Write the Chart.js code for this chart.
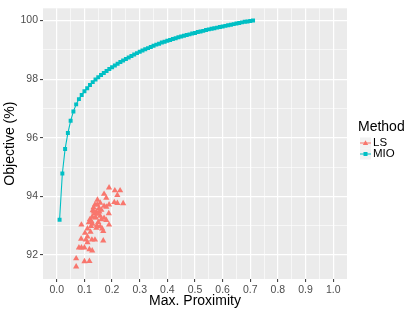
<!DOCTYPE html>
<html>
<head>
<meta charset="utf-8">
<script src="https://cdn.jsdelivr.net/npm/chart.js@4/dist/chart.umd.min.js"></script>
<style>
  html, body { margin: 0; padding: 0; background: #fff; }
  #wrap { width: 415px; height: 312px; }
</style>
</head>
<body>
<div id="wrap"><canvas id="grafica"></canvas></div>
<script>
// Datos
const mioProximity = [0.01, 0.02, 0.03, 0.04, 0.05, 0.06, 0.07, 0.08, 0.09, 0.10,
  0.11, 0.12, 0.13, 0.14, 0.15, 0.16, 0.17, 0.18, 0.19, 0.20,
  0.21, 0.22, 0.23, 0.24, 0.25, 0.26, 0.27, 0.28, 0.29, 0.30,
  0.31, 0.32, 0.33, 0.34, 0.35, 0.36, 0.37, 0.38, 0.39, 0.40,
  0.41, 0.42, 0.43, 0.44, 0.45, 0.46, 0.47, 0.48, 0.49, 0.50,
  0.51, 0.52, 0.53, 0.54, 0.55, 0.56, 0.57, 0.58, 0.59, 0.60,
  0.61, 0.62, 0.63, 0.64, 0.65, 0.66, 0.67, 0.68, 0.69, 0.70, 0.71];
const mioObjective = [93.2, 94.78, 95.62, 96.16, 96.58, 96.9, 97.14, 97.32, 97.46, 97.59,
  97.69, 97.8, 97.9, 97.99, 98.07, 98.14, 98.21, 98.28, 98.35, 98.41,
  98.47, 98.53, 98.59, 98.64, 98.69, 98.74, 98.79, 98.84, 98.89, 98.94,
  98.98, 99.02, 99.06, 99.1, 99.14, 99.18, 99.21, 99.25, 99.28, 99.31,
  99.34, 99.37, 99.4, 99.43, 99.46, 99.48, 99.51, 99.53, 99.56, 99.58,
  99.61, 99.63, 99.65, 99.68, 99.7, 99.72, 99.74, 99.76, 99.78, 99.8,
  99.82, 99.84, 99.86, 99.88, 99.9, 99.92, 99.94, 99.96, 99.97, 99.99, 100.0];

const lsProximity = [0.189, 0.21, 0.229, 0.171, 0.219, 0.179, 0.208, 0.219, 0.24, 0.189,
  0.157, 0.138, 0.146, 0.171, 0.179, 0.161, 0.13, 0.143, 0.154, 0.188,
  0.136, 0.157, 0.128, 0.12, 0.141, 0.171, 0.161, 0.179, 0.189, 0.089,
  0.116, 0.129, 0.145, 0.157, 0.111, 0.143, 0.164, 0.168, 0.102, 0.122,
  0.111, 0.088, 0.105, 0.127, 0.138, 0.168, 0.111, 0.08, 0.089, 0.1,
  0.118, 0.128, 0.07, 0.1, 0.118, 0.07, 0.134, 0.149, 0.153, 0.125,
  0.139, 0.15, 0.133, 0.147, 0.124];
const lsObjective = [94.3, 94.2, 94.2, 94.08, 94.04, 93.95, 93.8, 93.77, 93.76, 93.72,
  93.78, 93.72, 93.72, 93.67, 93.64, 93.54, 93.52, 93.48, 93.48, 93.42,
  93.41, 93.33, 93.3, 93.22, 93.27, 93.26, 93.21, 93.19, 93.03, 93.03,
  93.11, 93.06, 93.01, 92.97, 92.9, 92.92, 92.9, 92.81, 92.75, 92.79,
  92.62, 92.55, 92.52, 92.52, 92.52, 92.49, 92.43, 92.25, 92.25, 92.25,
  92.19, 92.15, 91.88, 91.78, 91.79, 91.6, 93.48, 93.4, 93.6, 93.15,
  93.28, 93.12, 93.62, 93.88, 92.98];

const xBreaks = [0, 0.1, 0.2, 0.3, 0.4, 0.5, 0.6, 0.7, 0.8, 0.9, 1.0];
const xMinorBreaks = [0.05, 0.15, 0.25, 0.35, 0.45, 0.55, 0.65, 0.75, 0.85, 0.95];
const yBreaks = [92, 94, 96, 98, 100];
const yMinorBreaks = [93, 95, 97, 99];

const metodos = ['LS', 'MIO'];
const colorLS = '#F8766D';
const colorMIO = '#00BFC4';

function esMayor(valores, v) {
  return valores.some(b => Math.abs(b - v) < 1e-9);
}

const fondoPanel = {
  id: 'fondoPanel',
  beforeDraw(chart) {
    const {ctx, chartArea: a} = chart;
    ctx.save();
    ctx.fillStyle = '#EBEBEB';
    ctx.fillRect(a.left, a.top, a.right - a.left, a.bottom - a.top);
    ctx.restore();
  }
};

// Leyenda estilo ggplot (clave con linea + marcador)
const leyendaMetodo = {
  id: 'leyendaMetodo',
  afterDraw(chart) {
    const ctx = chart.ctx;
    const x0 = chart.chartArea.right + 13;
    ctx.save();
    ctx.fillStyle = '#000';
    ctx.textBaseline = 'middle';
    ctx.textAlign = 'left';
    ctx.font = '14px "Liberation Sans"';
    ctx.fillText('Method', x0 - 2, 127.5);
    ctx.font = '11.5px "Liberation Sans"';
    chart.data.datasets.forEach((ds, i) => {
      const cy = 143 + i * 11;
      ctx.fillStyle = '#F2F2F2';
      ctx.fillRect(x0, cy - 5.5, 11, 11);
      ctx.strokeStyle = ds.borderColor;
      ctx.lineWidth = 1;
      ctx.beginPath(); ctx.moveTo(x0, cy); ctx.lineTo(x0 + 11, cy); ctx.stroke();
      ctx.fillStyle = ds.backgroundColor;
      ctx.beginPath();
      if (ds.pointStyle === 'triangle') {
        ctx.moveTo(x0 + 5.5, cy - 2.8); ctx.lineTo(x0 + 8.2, cy + 2); ctx.lineTo(x0 + 2.8, cy + 2);
      } else {
        ctx.rect(x0 + 3.5, cy - 2, 4, 4);
      }
      ctx.closePath(); ctx.fill();
      ctx.fillStyle = '#000';
      ctx.fillText(ds.label, x0 + 13, cy);
    });
    ctx.restore();
  }
};

const ctx = document.getElementById('grafica').getContext('2d');
const grafica = new Chart(ctx, {
  type: 'scatter',
  data: {
    datasets: [{
      label: metodos[0],
      data: lsProximity.map((x, i) => ({x: x, y: lsObjective[i]})),
      backgroundColor: colorLS,
      borderColor: colorLS,
      pointStyle: 'triangle',
      pointRadius: 3.6,
      pointBorderWidth: 0,
      showLine: false
    }, {
      label: metodos[1],
      data: mioProximity.map((x, i) => ({x: x, y: mioObjective[i]})),
      backgroundColor: colorMIO,
      borderColor: colorMIO,
      pointStyle: 'rect',
      pointRadius: 2.8,
      pointBorderWidth: 0,
      showLine: true,
      borderWidth: 1.1
    }]
  },
  options: {
    responsive: true,
    maintainAspectRatio: false,
    animation: false,
    layout: { padding: { top: 4, left: 0, right: 68, bottom: 0 } },
    plugins: {
      tooltip: { enabled: false },
      legend: { display: false }
    },
    scales: {
      x: {
        type: 'linear',
        min: -0.05,
        max: 1.05,
        afterFit: s => { s.height = 33; },
        afterBuildTicks: s => {
          s.ticks = xBreaks.concat(xMinorBreaks).sort((a, b) => a - b).map(v => ({value: v}));
        },
        border: { display: false },
        grid: {
          color: '#FFFFFF',
          lineWidth: c => esMayor(xBreaks, c.tick.value) ? 1.2 : 0.6,
          tickColor: c => esMayor(xBreaks, c.tick.value) ? '#333333' : 'rgba(0,0,0,0)',
          tickLength: 3,
          tickWidth: 1
        },
        ticks: {
          autoSkip: false,
          maxRotation: 0,
          padding: 2,
          color: '#4D4D4D',
          font: { family: 'Liberation Sans', size: 10.5 },
          callback: v => esMayor(xBreaks, v) ? v.toFixed(1) : ''
        },
        title: {
          display: true,
          text: 'Max. Proximity',
          color: '#000',
          font: { family: 'Liberation Sans', size: 14 },
          padding: { top: 0, bottom: 2 }
        }
      },
      y: {
        type: 'linear',
        min: 91.18,
        max: 100.42,
        afterFit: s => { s.width = 43; },
        afterBuildTicks: s => {
          s.ticks = yBreaks.concat(yMinorBreaks).sort((a, b) => a - b).map(v => ({value: v}));
        },
        border: { display: false },
        grid: {
          color: '#FFFFFF',
          lineWidth: c => esMayor(yBreaks, c.tick.value) ? 1.2 : 0.6,
          tickColor: c => esMayor(yBreaks, c.tick.value) ? '#333333' : 'rgba(0,0,0,0)',
          tickLength: 3,
          tickWidth: 1
        },
        ticks: {
          padding: 2,
          color: '#4D4D4D',
          font: { family: 'Liberation Sans', size: 10.5 },
          callback: v => esMayor(yBreaks, v) ? String(v) : ''
        },
        title: {
          display: true,
          text: 'Objective (%)',
          color: '#000',
          font: { family: 'Liberation Sans', size: 14 },
          padding: { top: 1.5, bottom: 0 }
        }
      }
    }
  },
  plugins: [fondoPanel, leyendaMetodo]
});
</script>
</body>
</html>
